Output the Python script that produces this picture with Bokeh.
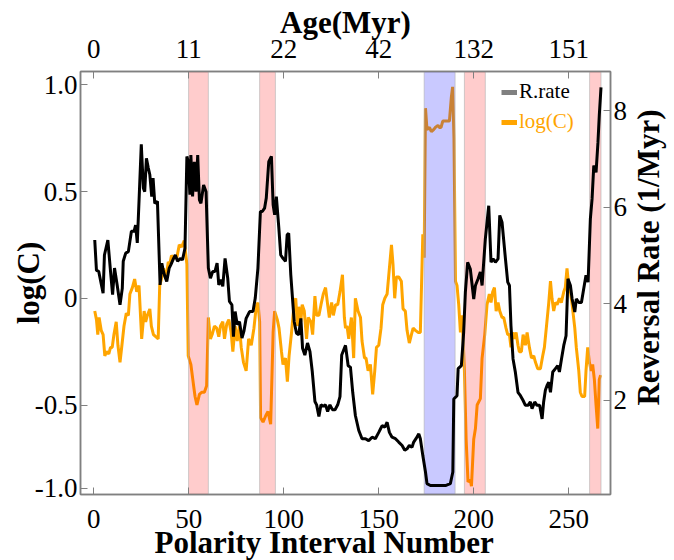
import math
from bokeh.plotting import figure
from bokeh.layouts import row
from bokeh.models import (Range1d, LinearAxis, FixedTicker, BoxAnnotation, Title,
                          Legend, LegendItem, ColumnDataSource, Label)
from bokeh.embed import file_html
from bokeh.resources import INLINE

# ---------------- data ----------------
rate_x = [0.5, 1.4, 2.6, 4.9, 5.6, 7.4, 8.8, 9.9, 10.9, 12.3, 13.8, 15.0, 15.5, 16.8, 18.2, 19.8, 21.2, 22.0,
          22.9, 23.8, 25.0, 26.1, 26.8, 27.7, 28.7, 29.5, 30.5, 31.2, 32.1, 33.5, 34.9, 35.8, 36.7, 37.4, 38.4,
          39.7, 40.6, 42.0, 42.9, 44.1, 45.5, 46.7, 48.0, 49.0, 49.7, 50.6, 51.1, 52.0, 52.9, 53.8, 54.7, 55.6,
          56.4, 57.8, 59.1, 60.3, 61.4, 62.6, 63.8, 64.9, 65.8, 67.0, 67.9, 69.1, 70.5, 71.4, 72.7, 73.5, 74.4,
          75.5, 76.7, 78.0, 79.0, 80.2, 82.0, 83.8, 85.0, 86.4, 87.7, 88.7, 89.9, 90.8, 92.1, 93.5, 94.4, 95.2,
          96.1, 97.4, 98.4, 99.6, 100.9, 101.8, 102.6, 103.7, 105.5, 106.7, 107.9, 109.0, 109.9, 111.1, 112.5,
          113.8, 115.0, 116.4, 117.3, 118.5, 119.6, 120.8, 122.0, 123.1, 124.3, 125.6, 127.0, 128.4, 129.6,
          130.5, 132.5, 133.9, 135.1, 136.3, 137.7, 139.5, 141.2, 143.0, 144.7, 146.5, 148.2, 150.0, 150.9,
          151.8, 153.2, 154.4, 155.6, 157.0, 158.8, 160.5, 162.3, 163.7, 164.9, 166.1, 167.5, 168.4, 169.6,
          171.1, 171.9, 173.2, 174.6, 175.4, 177.2, 181.6, 185.1, 187.7, 189.0, 189.5, 191.2, 191.8, 193.5,
          194.7, 195.6, 196.8, 198.2, 200.0, 200.9, 202.3, 203.5, 204.4, 206.1, 207.9, 209.1, 210.2, 211.4,
          212.8, 213.7, 214.9, 216.7, 217.9, 218.8, 219.6, 220.7, 221.9, 223.3, 224.6, 226.0, 227.2, 228.6,
          229.8, 230.7, 232.1, 233.3, 234.7, 236.0, 236.8, 237.7, 238.6, 239.5, 240.4, 241.6, 243.0, 244.2,
          245.1, 246.2, 247.4, 248.6, 249.6, 250.9, 251.8, 253.2, 254.0, 255.3, 256.7, 257.9, 259.1, 260.2,
          261.4, 262.3, 263.2, 264.4, 265.4, 266.1, 267.0]
rate_val = [5.32, 4.69, 4.67, 4.22, 5.01, 5.32, 4.67, 4.19, 4.74, 4.39, 3.98, 4.32, 4.88, 5.05, 5.08, 5.50, 5.50, 5.63,
            5.26, 6.12, 7.30, 6.39, 6.32, 7.01, 6.81, 6.67, 6.22, 6.60, 6.08, 6.12, 4.39, 4.84, 4.67, 4.57, 4.46,
            4.74, 4.81, 4.94, 5.01, 4.88, 4.94, 4.91, 5.15, 7.05, 6.94, 6.26, 7.08, 6.22, 6.94, 6.32, 7.08, 6.15,
            6.08, 6.46, 6.32, 4.74, 4.53, 4.67, 4.67, 4.84, 4.39, 4.50, 4.36, 4.94, 4.53, 4.05, 3.98, 3.32, 3.84,
            3.57, 3.63, 3.29, 3.43, 3.70, 3.84, 3.84, 4.12, 4.74, 5.91, 5.91, 5.98, 6.19, 6.94, 7.05, 6.05, 5.84,
            6.22, 5.57, 5.01, 4.94, 4.88, 5.43, 5.46, 4.60, 3.63, 3.39, 3.36, 3.70, 3.08, 2.94, 3.19,
            3.01, 2.60, 1.98, 1.91, 1.67, 1.91, 1.88, 1.91, 1.77, 1.91, 1.81, 1.81, 1.91, 2.08,
            2.94, 3.14, 2.72, 2.69, 2.17, 1.69, 1.38, 1.21, 1.21, 1.17, 1.24, 1.21, 1.34, 1.41,
            1.48, 1.45, 1.55, 1.34, 1.24, 1.21, 1.14, 1.07, 0.97, 1.00, 1.07, 1.03, 1.14, 1.21,
            1.31, 1.21, 0.86, 0.52, 0.28, 0.24, 0.24, 0.24, 0.28, 0.52, 2.03, 2.10, 2.66, 2.72,
            3.41, 4.24, 4.86, 4.72, 4.10, 4.38, 4.52, 4.66, 4.38, 5.34, 6.03, 4.86, 4.93, 4.86,
            4.93, 5.83, 5.69, 4.93, 4.45, 4.38, 3.55, 2.86, 2.59, 2.17, 2.10, 2.00, 1.90, 1.90,
            1.97, 1.83, 1.97, 1.90, 1.90, 1.62, 1.97, 2.21, 2.31, 2.38, 2.17, 2.59, 2.66, 2.72,
            2.59, 2.86, 3.14, 3.34, 4.52, 4.38, 4.10, 3.83, 4.10, 4.03, 4.03, 4.31, 4.59, 4.45,
            5.76, 6.17, 6.86, 6.72, 7.34, 7.90, 8.48]

logc_x = [0.5, 1.4, 2.1, 2.8, 3.9, 4.9, 5.8, 6.7, 7.9, 8.8, 9.7, 10.6, 11.8, 12.7, 13.8, 14.8, 15.9, 17.1, 18.2,
          19.0, 20.3, 21.5, 22.6, 23.8, 25.2, 26.5, 27.3, 28.2, 29.5, 30.3, 31.4, 32.6, 33.9, 34.7, 35.6, 36.7,
          37.9, 39.2, 40.0, 40.9, 42.3, 43.7, 45.0, 46.2, 47.6, 49.0, 49.7, 51.1, 52.4, 53.3, 54.3, 55.6, 56.8,
          58.2, 59.4, 60.3, 61.4, 62.3, 63.5, 64.7, 65.8, 66.7, 67.9, 68.8, 70.0, 71.1, 72.3, 73.2, 74.4, 75.5,
          76.7, 77.6, 78.8, 80.2, 81.5, 82.9, 84.3, 85.5, 86.4, 87.3, 87.8, 89.1, 90.5, 91.7, 93.1, 94.4, 95.2,
          96.6, 97.5, 98.8, 99.6, 100.9, 101.9, 102.8, 104.1, 105.5, 106.3, 107.2, 107.9, 109.0, 109.7, 110.8,
          112.0, 112.9, 114.3, 115.2, 116.4, 117.3, 118.5, 119.6, 120.8, 122.0, 123.1, 124.0, 125.2, 126.1,
          127.3, 128.4, 129.6, 130.9, 131.9, 132.5, 133.3, 134.2, 135.6, 136.8, 137.7, 139.1, 140.4, 141.2,
          142.5, 143.3, 144.4, 145.6, 146.8, 147.9, 148.8, 150.0, 151.2, 152.1, 153.2, 154.4, 155.6, 156.7,
          157.5, 158.4, 159.3, 160.5, 161.9, 162.8, 164.0, 164.9, 166.1, 167.2, 168.1, 169.3, 170.7, 171.9,
          173.2, 173.9, 174.6, 175.4, 176.7, 177.7, 178.9, 179.8, 181.2, 181.9, 182.8, 183.7, 185.1, 187.2,
          188.2, 188.9, 189.6, 190.4, 191.2, 192.1, 193.0, 193.9, 195.1, 196.0, 197.0, 198.2, 198.8, 200.0,
          200.9, 201.8, 203.5, 204.4, 205.8, 207.0, 208.2, 209.1, 210.0, 210.9, 211.8, 212.8, 213.7, 214.9,
          215.8, 217.0, 217.9, 218.8, 219.6, 220.5, 221.4, 222.3, 223.3, 224.0, 225.1, 226.0, 227.2, 228.1,
          229.3, 230.4, 231.6, 232.5, 233.7, 235.1, 236.3, 237.2, 238.2, 239.5, 240.4, 241.2, 242.1, 243.0,
          243.9, 245.1, 246.1, 247.4, 248.2, 249.1, 250.0, 250.9, 251.8, 253.2, 254.0, 255.3, 256.1, 257.0,
          258.4, 259.1, 260.0, 260.9, 261.8, 262.6, 263.5, 264.4, 265.3, 266.1, 266.8]
logc_val = [-0.06, -0.10, -0.17, -0.09, -0.15, -0.17, -0.27, -0.25, -0.26, -0.23, -0.23, -0.17, -0.11, -0.22, -0.30,
            -0.22, -0.13, -0.07, -0.08, 0.02, 0.05, 0.09, 0.03, 0.06, -0.19, -0.06, -0.11, -0.08, -0.05, -0.13,
            -0.17, -0.18, -0.19, 0.06, 0.09, 0.14, 0.09, 0.17, 0.16, 0.20, 0.19, 0.19, 0.25, 0.24, 0.27, 0.16,
            -0.27, -0.31, -0.40, -0.46, -0.50, -0.45, -0.44, -0.44, -0.41, -0.09, -0.19, -0.17, -0.13, -0.14,
            -0.18, -0.13, -0.11, -0.19, -0.12, -0.10, -0.16, -0.25, -0.13, -0.20, -0.13, -0.23, -0.30, -0.34,
            -0.19, -0.22, -0.14, -0.04, -0.02, -0.11, -0.56, -0.58, -0.55, -0.53, -0.59, -0.16, -0.06, -0.10,
            -0.14, -0.25, -0.31, -0.28, -0.39, -0.27, -0.16, -0.02, 0.00, -0.13, -0.04, -0.11, -0.03, -0.06,
            -0.19, -0.09, -0.11, -0.17, 0.01, -0.08, -0.08, -0.03, 0.02, 0.05, -0.03, -0.09, -0.02, -0.08,
            -0.03, -0.03, 0.03, 0.11, -0.09, -0.14, -0.13, -0.19, -0.09, -0.28, 0.00, -0.06, -0.09, -0.20,
            -0.28, -0.28, -0.34, -0.31, -0.45, -0.34, -0.23, -0.22, -0.14, -0.03, 0.00, 0.02, 0.14, 0.25,
            0.16, 0.00, 0.10, 0.10, 0.08, -0.05, -0.06, -0.15, -0.21, -0.17, -0.14, -0.15, -0.16, -0.16,
            0.30, 0.19, 0.89, 0.79, 0.80, 0.78, 0.79, 0.80, 0.81, 0.80, 0.80, 0.83, 0.83, 0.83,
            0.94, 0.99, 0.75, 0.08, 0.06, -0.03, -0.16, -0.08, -0.34, -0.66, -0.86, -0.85, -0.88, -0.66,
            -0.61, -0.50, -0.47, -0.28, -0.17, -0.03, 0.02, -0.02, 0.03, 0.05, -0.06, -0.02, -0.06, -0.09,
            -0.09, -0.14, -0.17, -0.17, -0.23, -0.16, -0.19, -0.16, -0.22, -0.25, -0.25, -0.17, -0.22, -0.16,
            -0.23, -0.28, -0.27, -0.30, -0.33, -0.33, -0.27, -0.23, -0.14, -0.02, 0.08, 0.00, -0.06, -0.02,
            -0.03, 0.00, -0.02, 0.03, 0.05, 0.14, 0.06, 0.03, -0.03, -0.14, -0.23, -0.34, -0.44, -0.46,
            -0.46, -0.34, -0.23, -0.30, -0.34, -0.31, -0.38, -0.50, -0.61, -0.38, -0.36]

pink_start = [49.9, 87.3, 195.1, 261.0]
pink_end = [60.3, 95.6, 206.1, 267.0]
blue_start = [173.9]
blue_end = [190.2]

bottom_ticks = [0, 50, 100, 150, 200, 250]
age_labels = ["0", "11", "22", "42", "132", "151"]
left_ticks = [1.0, 0.5, 0, -0.5, -0.89]
left_labels = ["1.0", "0.5", "0", "-0.5", "-1.0"]
right_ticks = [2, 4, 6, 8]

# ---------------- main figure ----------------
FONT = "Liberation Serif"
p = figure(width=630, height=560, output_backend="svg", toolbar_location=None,
           x_range=Range1d(-7, 272), y_range=Range1d(-0.919, 1.062),
           min_border_left=80, min_border_right=20, min_border_top=71, min_border_bottom=66,
           x_axis_location=None, y_axis_location=None)
p.extra_y_ranges = {"rate": Range1d(0.055, 8.807)}
p.xgrid.visible = False
p.ygrid.visible = False
p.outline_line_color = "#808080"
p.outline_line_width = 1.5
p.background_fill_color = "white"
p.border_fill_color = "white"

def style(ax):
    ax.axis_line_color = "#808080"
    ax.axis_line_width = 1.5
    ax.major_tick_line_color = "#808080"
    ax.major_tick_in = 7
    ax.major_tick_out = 0
    ax.minor_tick_line_color = None
    ax.major_label_text_font = FONT
    ax.major_label_text_font_size = "27px"
    ax.major_label_text_color = "black"
    ax.axis_label_text_font = FONT
    ax.axis_label_text_font_size = "31px"
    ax.axis_label_text_font_style = "bold"
    ax.axis_label_text_color = "black"

xb = LinearAxis(ticker=FixedTicker(ticks=bottom_ticks))
style(xb)
xb.major_label_standoff = 15
p.add_layout(xb, "below")
p.add_layout(Title(text="Polarity Interval Number", align="left", offset=74, standoff=-16,
                   text_font=FONT, text_font_size="31px", text_font_style="bold",
                   text_color="black"), "below")

xt = LinearAxis(ticker=FixedTicker(ticks=bottom_ticks), axis_label="Age(Myr)",
                major_label_overrides={t: l for t, l in zip(bottom_ticks, age_labels)})
style(xt)
xt.major_label_standoff = 14
xt.axis_label_standoff = -3
p.add_layout(xt, "above")

yl = LinearAxis(ticker=FixedTicker(ticks=left_ticks), axis_label="log(C)",
                major_label_overrides={t: l for t, l in zip(left_ticks, left_labels)})
style(yl)
yl.major_label_standoff = 3
yl.axis_label_standoff = -14
p.add_layout(yl, "left")

yr = LinearAxis(y_range_name="rate", ticker=FixedTicker(ticks=right_ticks))
style(yr)
yr.major_label_standoff = 3
p.add_layout(yr, "right")

# ---------------- lines and bands ----------------
# orange below the bands, black above them
p.line(logc_x, logc_val, line_color="#ffa500", line_width=3, level="image")
for a, b in zip(pink_start, pink_end):
    p.add_layout(BoxAnnotation(left=a, right=b, fill_color="#ff0000", fill_alpha=0.2,
                               line_color="#b0b0b0", line_alpha=0.6, line_width=1, level="underlay"))
for a, b in zip(blue_start, blue_end):
    p.add_layout(BoxAnnotation(left=a, right=b, fill_color="#0000ff", fill_alpha=0.21,
                               line_color="#b0b0b0", line_alpha=0.6, line_width=1, level="underlay"))
p.line(rate_x, rate_val, line_color="black", line_width=3, y_range_name="rate")

# ---------------- legend ----------------
nan = float("nan")
src = ColumnDataSource(data=dict(x=[nan], y=[nan]))
g_rate = p.line("x", "y", source=src, line_color="#808080", line_width=5)
g_logc = p.line("x", "y", source=src, line_color="#ffa500", line_width=5)

def mk_legend(label, r, color, loc):
    lg = Legend(items=[LegendItem(label=label, renderers=[r])], location=loc,
                border_line_color=None, background_fill_alpha=0, padding=0, margin=0,
                glyph_width=16, glyph_height=24, label_height=24, label_standoff=2,
                label_text_font=FONT, label_text_font_size="21px", label_text_color=color)
    p.add_layout(lg, "center")

mk_legend("R.rate", g_rate, "black", (421, 390))
mk_legend("log(C)", g_logc, "#ffa500", (421, 360))

# ---------------- strip holding the right-hand axis title ----------------
p2 = figure(width=44, height=560, output_backend="svg", toolbar_location=None,
            x_range=Range1d(0, 1), y_range=Range1d(0, 1),
            min_border_left=0, min_border_right=0, min_border_top=0, min_border_bottom=0,
            x_axis_location=None, y_axis_location=None)
p2.xgrid.visible = False
p2.ygrid.visible = False
p2.outline_line_color = None
p2.background_fill_color = "white"
p2.border_fill_color = "white"
p2.add_layout(Label(x=18, y=237, x_units="screen", y_units="screen", angle=math.pi / 2,
                    text="Reversal Rate (1/Myr)", text_align="center", text_baseline="middle",
                    text_font=FONT, text_font_size="31px", text_font_style="bold",
                    text_color="black"))

layout = row(p, p2, spacing=0)
open("out.html", "w").write(file_html(layout, INLINE))
